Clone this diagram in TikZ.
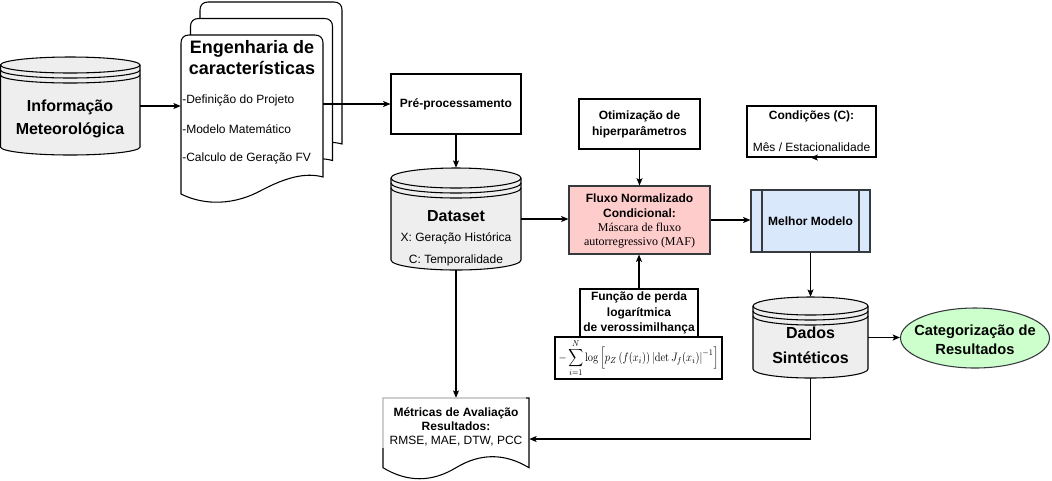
\documentclass[tikz,border=0pt]{standalone}
\usepackage{fontspec}
\usepackage{graphicx}
\usetikzlibrary{arrows.meta,calc,shapes.geometric}
\newfontfamily\arialf{Liberation Sans}
\newfontfamily\timesf{Liberation Serif}
\definecolor{cylfill}{HTML}{EEEEEE}
\definecolor{pinkfill}{HTML}{FFCCCC}
\definecolor{bluefill}{HTML}{DAE8FC}
\definecolor{greenfill}{HTML}{CCFFCC}
\definecolor{darkstroke}{HTML}{36393D}
\newcommand\rectnode[7]{\node[#6, minimum width={(#4-#2)*0.75pt}, minimum height={(#5-#3)*0.75pt}] (#1) at ({(#2+#4)/2},{(#3+#5)/2}) {#7};}
% datastore: name, x1, y1, x2, y2, ry
\newcommand\dstore[6]{%
  \node[inner sep=0pt, minimum width={(#4-#2)*0.75pt}, minimum height={(#5-#3)*0.75pt}] (#1) at ({(#2+#4)/2},{(#3+#5)/2}) {};
  \pgfmathsetmacro\dsxm{(#2+#4)/2}%
  \pgfmathsetmacro\dskx{0.5523*(#4-#2)/2}%
  \pgfmathsetmacro\dsky{0.5523*#6}%
  \pgfmathsetmacro\dstc{#3+#6}%
  \pgfmathsetmacro\dsbc{#5-#6}%
  \filldraw[cyl] (#2,\dstc) -- (#2,\dsbc)
     .. controls (#2,{\dsbc+\dsky}) and ({\dsxm-\dskx},#5) .. (\dsxm,#5)
     .. controls ({\dsxm+\dskx},#5) and (#4,{\dsbc+\dsky}) .. (#4,\dsbc)
     -- (#4,\dstc)
     .. controls (#4,{\dstc-\dsky}) and ({\dsxm+\dskx},#3) .. (\dsxm,#3)
     .. controls ({\dsxm-\dskx},#3) and (#2,{\dstc-\dsky}) .. (#2,\dstc) -- cycle;
  \foreach \dsoff in {0,5,10}{%
    \pgfmathsetmacro\dsc{\dstc+\dsoff}%
    \draw[cyl, fill=none] (#2,\dsc)
     .. controls (#2,{\dsc+\dsky}) and ({\dsxm-\dskx},{\dsc+#6}) .. (\dsxm,{\dsc+#6})
     .. controls ({\dsxm+\dskx},{\dsc+#6}) and (#4,{\dsc+\dsky}) .. (#4,\dsc);
  }%
}
\begin{document}
\begin{tikzpicture}[x=0.75pt,y=-0.75pt,
  shp/.style={draw=black, line width=0.8pt, fill=white, inner sep=0pt},
  cyl/.style={draw=black, line width=0.8pt, fill=cylfill},
  arr/.style={draw=black, line width=0.8pt, -{Stealth[length=5.5pt,width=4.5pt,inset=1.2pt]}},
  bsm/.style={font={\arialf\bfseries\fontsize{9}{11.6}\selectfont}, align=center, inner sep=0pt},
  nsm/.style={font={\arialf\fontsize{9}{11}\selectfont}, align=center, inner sep=0pt},
  nds/.style={font={\arialf\fontsize{9}{11}\selectfont}, align=center, inner sep=0pt},
  bbig/.style={font={\arialf\bfseries\fontsize{12}{17.25}\selectfont}, align=center, inner sep=0pt}
]
\useasboundingbox (0,0) rectangle (1052,480);

% ---------- Informacao Meteorologica ----------
\dstore{info}{0.5}{57}{140}{155}{8}
\node[bbig] (infot) at (70,118.5) {Informação\\Meteorológica};

% ---------- Engenharia de caracteristicas (multi-document) ----------
\foreach \sx/\sy in {19/-33, 9.5/-16.5, 0/0}{
\begin{scope}[shift={(\sx,\sy)}]
\filldraw[shp] (181,194) -- (181,43) .. controls (181,38) and (184,35) .. (189,35) -- (315,35)
  .. controls (320,35) and (323,38) .. (323,43) -- (323,177)
  .. controls (305,172) and (285,178) .. (262,190)
  .. controls (235,205) and (205,206) .. (181,194) -- cycle;
\end{scope}
}
\node[inner sep=0pt, minimum width={142*0.75pt}, minimum height={159*0.75pt}] (eng) at (252,114.5) {};
\node[font={\arialf\bfseries\fontsize{13.5}{15.75}\selectfont}, align=center, inner sep=0pt] (engt) at (252,57.5) {Engenharia de\\características};
\node[nsm, anchor=west] (eng1) at (182,100) {-Definição do Projeto};
\node[nsm, anchor=west] (eng2) at (182,129) {-Modelo Matemático};
\node[nsm, anchor=west] (eng3) at (182,158) {-Calculo de Geração FV};

% ---------- Pre-processamento ----------
\rectnode{pre}{391}{74}{521}{134}{shp, bsm}{Pré-processamento}

% ---------- Dataset ----------
\dstore{dataset}{391}{168}{521}{270}{10}
\node[font={\arialf\bfseries\fontsize{12}{14}\selectfont}, inner sep=0pt] (datat) at (456,216) {Dataset};
\node[nds] (datax) at (456,238) {X: Geração Histórica};
\node[nds] (datac) at (456,260) {C: Temporalidade};

% ---------- Otimizacao ----------
\rectnode{otim}{579}{99}{700}{149}{shp, bsm, font={\arialf\bfseries\fontsize{9}{12}\selectfont}}{Otimização de\\hiperparâmetros}

% ---------- Fluxo ----------
\rectnode{fluxo}{569}{186}{710}{254}{shp, draw=darkstroke, fill=pinkfill}{}
\node[bsm, font={\arialf\bfseries\fontsize{9}{11}\selectfont}] (fluxot1) at (639.5,206) {Fluxo Normalizado\\Condicional:};
\node[font={\timesf\fontsize{9}{11}\selectfont}, align=center, inner sep=0pt] (fluxot2) at (639.5,235.5) {Máscara de fluxo\\autorregressivo (MAF)};

% ---------- Funcao de perda ----------
\rectnode{formula}{555}{337}{722}{379}{shp}{\resizebox*{120pt}{28.5pt}{$\displaystyle -\sum_{i=1}^{N}\log\left[p_{Z}\left(f(x_i)\right)\left|\det J_f(x_i)\right|^{-1}\right]$}}
\rectnode{funcao}{580}{289}{698}{337}{shp, bsm}{Função de perda\\logarítmica\\de verossimilhança}

% ---------- Condicoes ----------
\rectnode{cond}{747}{106}{876}{157}{shp}{}
\node[bsm] (condt1) at (811.5,116) {Condições (C):};
\node[nsm] (condt2) at (811.5,147) {Mês / Estacionalidade};

% ---------- Melhor Modelo ----------
\rectnode{melhor}{751}{190}{870}{252}{shp, draw=darkstroke, fill=bluefill, bsm}{Melhor Modelo}
\draw[line width=0.8pt, darkstroke] (762,190) -- (762,252) (859,190) -- (859,252);

% ---------- Dados Sinteticos ----------
\dstore{dados}{753}{297}{868}{378}{9}
\node[bbig, font={\arialf\bfseries\fontsize{12}{18.75}\selectfont}] (dadost) at (810.5,345.5) {Dados\\Sintéticos};

% ---------- Categorizacao ----------
\node[ellipse, draw=darkstroke, line width=0.8pt, fill=greenfill, inner sep=0pt,
  minimum width={149*0.75pt}, minimum height={60*0.75pt}] (cat) at (975,338) {};
\node[font={\arialf\bfseries\fontsize{11}{14.25}\selectfont}, align=center, inner sep=0pt] (catt) at (975,339.5) {Categorização de\\Resultados};

% ---------- Metricas (document) ----------
\filldraw[shp] (383,398) -- (529,398) -- (529,467.7)
  .. controls (504.7,453.0) and (480.3,453.0) .. (456,467.7)
  .. controls (431.7,482.4) and (407.3,482.4) .. (383,467.7) -- cycle;
\fill[white, opacity=0.7] (380,395.5) rectangle (526,448);
\node[inner sep=0pt, minimum width={146*0.75pt}, minimum height={82*0.75pt}] (metricas) at (456,439) {};
\node[bsm, font={\arialf\bfseries\fontsize{9}{10.8}\selectfont}] (mett1) at (456,419) {Métricas de Avaliação\\Resultados:};
\node[nsm] (mett2) at (456,441) {RMSE, MAE, DTW, PCC};

% ---------- Connectors ----------
\draw[arr] (info.east) -- (info.east -| eng.west);
\draw[arr] (eng.east |- pre.west) -- (pre.west);
\draw[arr] (pre.south) -- (pre.south |- dataset.north);
\draw[arr] (dataset.east) -- (dataset.east -| fluxo.west);
\draw[arr] (otim.south) -- (otim.south |- fluxo.north);
\draw[arr] (funcao.north) -- (funcao.north |- fluxo.south);
\draw[arr] (fluxo.east) -- (fluxo.east -| melhor.west);
\draw[arr] (cond.south) -- (cond.south -| melhor.north);
\draw[arr] (melhor.south) -- (melhor.south |- dados.north);
\draw[arr] (dados.east) -- (dados.east -| cat.west);
\draw[arr] (dataset.south) -- (dataset.south |- metricas.north);
\draw[arr] (dados.south) |- (metricas.east);
\end{tikzpicture}
\end{document}
